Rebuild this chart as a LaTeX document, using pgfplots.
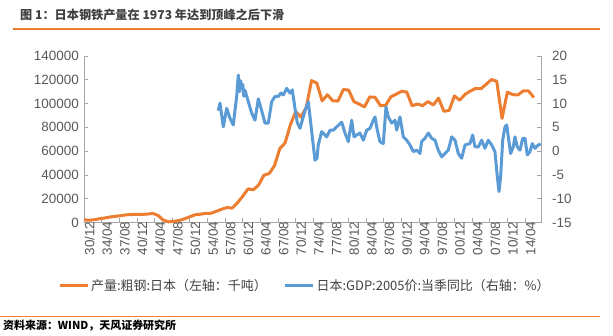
\documentclass[border=0pt]{standalone}
\usepackage{fontspec}
\setmainfont{Liberation Sans}
\newfontfamily\cjk{Noto Sans CJK SC}
\usepackage{pgfplots}
\pgfplotsset{compat=1.18}
\usepackage{pgfplotstable}
\definecolor{xlorange}{HTML}{ED7D31}
\definecolor{xlblue}{HTML}{5B9BD5}
\definecolor{axgray}{HTML}{A6A6A6}
\definecolor{lblgray}{HTML}{595959}
\definecolor{titlegray}{HTML}{404040}

\pgfplotstableread{
x y
1930 2289
1931 1883
1932 2398
1933 3198
1934 3844
1935 4704
1936 5223
1937 5801
1938 6472
1939 6696
1940 6856
1941 6844
1942 7044
1943 7650
1944 5911
1945 1963
1946 557
1947 952
1948 1715
1949 3111
1950 4839
1951 6502
1952 6988
1953 7662
1954 7750
1955 9408
1956 11106
1957 12570
1958 12118
1959 16629
1960 22138
1961 28268
1962 27546
1963 31501
1964 39799
1965 41161
1966 47784
1967 62154
1968 66893
1969 82166
1970 93322
1971 88557
1972 96900
1973 119322
1974 117131
1975 102313
1976 107384
1977 102405
1978 102105
1979 111748
1980 111395
1981 101676
1982 99548
1983 97179
1984 105586
1985 105279
1986 98275
1987 98513
1988 105681
1989 107908
1990 110339
1991 109649
1992 98132
1993 99632
1994 98295
1995 101640
1996 98801
1997 104545
1998 93548
1999 94192
2000 106444
2001 102866
2002 107745
2003 110511
2004 112718
2005 112471
2006 116226
2007 120203
2008 118739
2009 87534
2010 109599
2011 107601
2012 107232
2013 110595
2014 110666
2015 105134
}\steel

\pgfplotstableread{
x y
1955.38 8.5
1955.70 10.1
1956.32 5.1
1956.97 9.0
1957.59 6.9
1958.21 5.5
1958.86 11.6
1959.16 16.0
1959.40 12.5
1959.60 14.8
1959.80 13.2
1960.00 14.0
1960.20 11.5
1960.42 12.8
1961.05 10.4
1961.69 8.0
1962.31 6.5
1962.94 11.0
1963.58 8.5
1964.20 5.9
1964.83 5.9
1965.47 10.4
1966.09 11.5
1966.72 11.5
1967.20 12.2
1967.66 11.8
1968.30 13.2
1968.93 12.2
1969.36 12.9
1969.87 9.0
1970.30 6.0
1970.82 4.8
1971.76 8.5
1972.39 10.4
1973.03 4.1
1973.65 -1.9
1974.03 -1.5
1974.27 1.3
1974.92 4.1
1975.54 3.4
1975.86 3.0
1976.49 4.4
1977.11 4.4
1977.75 5.1
1978.70 6.1
1979.32 3.8
1979.94 2.0
1980.59 6.5
1981.02 3.0
1981.53 3.4
1982.15 3.8
1982.78 2.3
1983.42 4.4
1984.04 4.8
1984.67 6.5
1984.99 7.2
1985.42 4.4
1985.93 2.0
1986.56 1.6
1987.07 9.3
1987.50 7.2
1988.14 5.9
1988.77 6.5
1989.09 4.4
1989.71 7.2
1990.03 5.1
1990.34 3.0
1990.98 2.3
1991.60 1.3
1992.23 -0.1
1992.87 0.2
1993.49 -0.5
1993.81 2.0
1994.44 2.7
1995.06 3.8
1995.70 2.7
1996.33 2.3
1996.95 0.2
1997.59 -1.2
1998.22 -0.5
1998.84 0.2
1999.48 3.0
2000.11 2.3
2000.73 -0.5
2001.37 -1.5
2002.00 1.3
2002.94 1.6
2003.45 3.4
2003.89 0.9
2004.51 0.9
2005.15 2.3
2005.77 0.6
2006.40 2.3
2007.04 1.3
2007.66 -0.1
2008.10 -5.3
2008.42 -8.5
2008.74 -5.3
2009.12 2.3
2009.55 5.1
2009.88 5.5
2010.18 3.0
2010.63 -0.5
2011.12 0.9
2011.44 3.0
2011.88 0.9
2012.39 0.2
2012.90 2.7
2013.33 2.7
2013.77 -0.8
2014.28 -0.1
2014.71 1.6
2015.22 0.6
2015.85 1.3
2016.30 1.5
}\gdp

\pgfplotsset{
  mybase/.style={
    at={(84bp,113.5bp)}, anchor=south west,
    scale only axis, width=457bp, height=166.5bp,
    xmin=1930, xmax=2016.36,
    scaled x ticks=false, scaled y ticks=false,
    axis line style={axgray, line width=0.8bp},
    major tick style={axgray, line width=0.8bp},
    tick align=inside, major tick length=4bp,
    tick label style={font=\fontsize{13.5}{15}\selectfont, text=lblgray},
    clip=false,
  }
}

\begin{document}
\begin{tikzpicture}
\useasboundingbox (0bp,0bp) rectangle (613bp,336bp);
\node[anchor=west, inner sep=0, text=titlegray, font=\cjk\bfseries\fontsize{12.2}{14}\selectfont] at (20bp,321bp) {图 1：日本钢铁产量在 1973 年达到顶峰之后下滑};
\draw[xlorange, line width=1.6bp] (13bp,307bp) -- (600bp,307bp);
\draw[xlorange, line width=1.6bp] (0bp,19.3bp) -- (600bp,19.3bp);
\node[anchor=west, inner sep=0, text=black, font=\cjk\bfseries\fontsize{11}{13}\selectfont] at (3bp,10bp) {资料来源：WIND，天风证券研究所};

\begin{axis}[mybase,
  ymin=0, ymax=140000,
  axis y line*=left, axis x line*=bottom,
  xtick={1930,1933.333,1936.667,1940,1943.333,1946.667,1950,1953.333,1956.667,1960,1963.333,1966.667,1970,1973.333,1976.667,1980,1983.333,1986.667,1990,1993.333,1996.667,2000,2003.333,2006.667,2010,2013.333},
  xticklabels={30/12,34/04,37/08,40/12,44/04,47/08,50/12,54/04,57/08,60/12,64/04,67/08,70/12,74/04,77/08,80/12,84/04,87/08,90/12,94/04,97/08,00/12,04/04,07/08,10/12,14/04},
  xticklabel style={rotate=90, anchor=east, inner sep=0pt, yshift=-5.5bp, xshift=1bp},
  ytick={0,20000,40000,60000,80000,100000,120000,140000},
  yticklabels={0,20000,40000,60000,80000,100000,120000,140000},
  yticklabel style={anchor=east, inner sep=0pt, xshift=-5bp},
]
\addplot[xlorange, line width=3bp, line join=round] table[x=x,y=y] {\steel};
\end{axis}

\begin{axis}[mybase,
  ymin=-15, ymax=20,
  axis y line*=right, axis x line=none,
  ytick={-15,-10,-5,0,5,10,15,20},
  yticklabels={-15,-10,-5,0,5,10,15,20},
  yticklabel style={anchor=west, inner sep=0pt, xshift=11bp},
  legend columns=2,
  legend style={at={(axis description cs:-0.057,-0.381)}, anchor=west, draw=none, fill=none, inner sep=0pt,
    font=\cjk\fontsize{13}{15}\selectfont, text=titlegray,
    cells={anchor=west, inner xsep=2.5bp},
    /tikz/every even column/.append style={column sep=15bp}},
  legend image code/.code={\draw[#1] (0bp,0bp) -- (28bp,0bp);},
]
\addlegendimage{xlorange, line width=3bp}
\addlegendentry{产量:粗钢:日本（左轴：千吨）}
\addplot[xlblue, line width=3bp, line join=round] table[x=x,y=y] {\gdp};
\addlegendentry{日本:GDP:2005价:当季同比（右轴：\%）}
\end{axis}
\end{tikzpicture}
\end{document}
